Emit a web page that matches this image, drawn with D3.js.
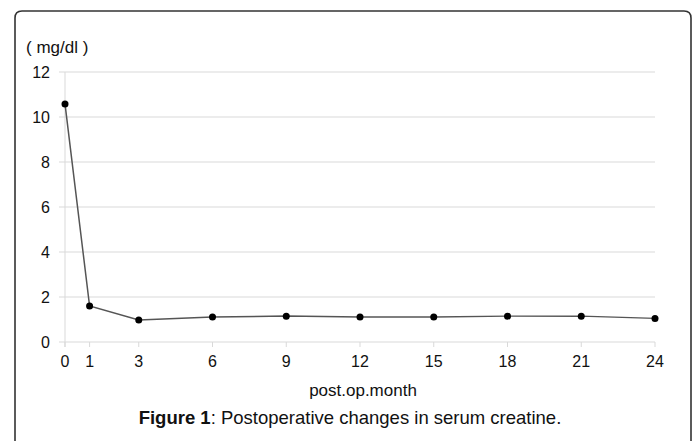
<!DOCTYPE html>
<html>
<head>
<meta charset="utf-8">
<script src="https://cdn.jsdelivr.net/npm/d3@7/dist/d3.min.js"></script>
<style>
  html, body { margin: 0; padding: 0; background: #fff; }
  svg { display: block; font-family: "Liberation Sans", Arial, sans-serif; }
</style>
</head>
<body>
<svg id="chart" width="697" height="441"></svg>
<script>
const months = [0, 1, 3, 6, 9, 12, 15, 18, 21, 24];
const creatinine = [10.58, 1.6, 0.98, 1.11, 1.15, 1.11, 1.11, 1.15, 1.15, 1.05];
const yTicks = [0, 2, 4, 6, 8, 10, 12];
const xTicks = [0, 1, 3, 6, 9, 12, 15, 18, 21, 24];
const yUnit = "( mg/dl )";
const xTitle = "post.op.month";
const captionBold = "Figure 1";
const captionRest = ": Postoperative changes in serum creatine.";

const svg = d3.select("#chart");

// frame
const fx = 15, fy = 11, fw = 676, fh = 445, r = 7;
svg.append("path")
  .attr("d", `M${fx},${fy + fh} L${fx},${fy + r} Q${fx},${fy} ${fx + r},${fy} L${fx + fw - r},${fy} Q${fx + fw},${fy} ${fx + fw},${fy + r} L${fx + fw},${fy + fh}`)
  .attr("fill", "none").attr("stroke", "#333").attr("stroke-width", 1.6);

const x = d3.scaleLinear().domain([0, 24]).range([65, 655]);
const y = d3.scaleLinear().domain([0, 12]).range([342, 72]);

// horizontal gridlines
svg.append("g").selectAll("line").data(yTicks).join("line")
  .attr("x1", 59).attr("x2", x(24))
  .attr("y1", d => y(d)).attr("y2", d => y(d))
  .attr("stroke", "#d9d9d9").attr("stroke-width", 1);

// vertical axis line at x=0
svg.append("line")
  .attr("x1", x(0)).attr("x2", x(0)).attr("y1", y(12)).attr("y2", y(0) + 5)
  .attr("stroke", "#d9d9d9").attr("stroke-width", 1);

// x axis ticks
svg.append("g").selectAll("line").data(xTicks).join("line")
  .attr("x1", d => x(d)).attr("x2", d => x(d))
  .attr("y1", y(0)).attr("y2", y(0) + 5)
  .attr("stroke", "#d9d9d9").attr("stroke-width", 1);

// y tick labels
svg.append("g").selectAll("text").data(yTicks).join("text")
  .attr("x", 50).attr("y", d => y(d))
  .attr("dy", "0.36em")
  .attr("text-anchor", "end")
  .attr("font-size", 16).attr("fill", "#111")
  .text(d => d);

// x tick labels
svg.append("g").selectAll("text").data(xTicks).join("text")
  .attr("x", d => x(d)).attr("y", 367)
  .attr("text-anchor", "middle")
  .attr("font-size", 16).attr("fill", "#111")
  .text(d => d);

// unit label
svg.append("text").attr("x", 26).attr("y", 53)
  .attr("font-size", 17).attr("fill", "#111").text(yUnit);

// x title
svg.append("text").attr("x", 363).attr("y", 396)
  .attr("text-anchor", "middle")
  .attr("font-size", 17).attr("fill", "#111").text(xTitle);

// caption
const cap = svg.append("text").attr("x", 350).attr("y", 424)
  .attr("text-anchor", "middle")
  .attr("font-size", 18.5).attr("fill", "#111");
cap.append("tspan").attr("font-weight", "bold").text(captionBold);
cap.append("tspan").text(captionRest);

// line
const data = months.map((m, i) => ({ m, v: creatinine[i] }));
svg.append("path").datum(data)
  .attr("d", d3.line().x(d => x(d.m)).y(d => y(d.v)))
  .attr("fill", "none").attr("stroke", "#555").attr("stroke-width", 1.5);

// points
svg.append("g").selectAll("circle").data(data).join("circle")
  .attr("cx", d => x(d.m)).attr("cy", d => y(d.v)).attr("r", 3.5)
  .attr("fill", "#000");
</script>
</body>
</html>
